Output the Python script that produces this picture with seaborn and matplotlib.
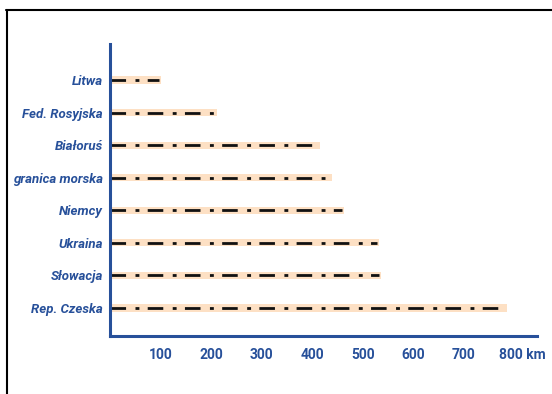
import matplotlib
matplotlib.use("Agg")
import matplotlib.pyplot as plt
from matplotlib.lines import Line2D
from matplotlib.transforms import ScaledTranslation
import seaborn as sns
import pandas as pd

# border lengths, km
countries = ["Litwa", "Fed. Rosyjska", "Białoruś", "granica morska",
             "Niemcy", "Ukraina", "Słowacja", "Rep. Czeska"]
lengths = [100, 212, 415, 440, 463, 532, 536, 786]
tick_values = [100, 200, 300, 400, 500, 600, 700, 800]
tick_labels = ["100", "200", "300", "400", "500", "600", "700", "800 km"]

BLUE = "#27509a"
PEACH = "#fde0c4"

sns.set_theme(style="white")
plt.rcParams["font.family"] = ["Roboto", "DejaVu Sans"]

df = pd.DataFrame({"country": countries, "km": lengths})

fig = plt.figure(figsize=(5.52, 3.94), dpi=100)
ax = fig.add_axes([110 / 552, 1 - 336 / 394, 427 / 552, 292 / 394])

sns.barplot(data=df, y="country", x="km", orient="h", color=PEACH,
            saturation=1, width=0.22, linewidth=0, ax=ax)

# dash-dot border symbol on top of each bar
for i, val in enumerate(lengths):
    ax.plot([0, val - 3], [i, i], color="#111111", lw=2.0,
            linestyle=(0, (5.6, 3.4, 1.4, 3.0)), dash_capstyle="butt")

ax.set_xlim(0, 845)
ax.set_ylim(7.86, -1.105)
ax.set_xlabel("")
ax.set_ylabel("")

for side in ["top", "right"]:
    ax.spines[side].set_visible(False)
for side in ["left", "bottom"]:
    ax.spines[side].set_color(BLUE)
    ax.spines[side].set_linewidth(2.2)

ax.set_xticks(tick_values)
ax.set_xticklabels(tick_labels)
ax.tick_params(axis="x", direction="inout", length=7, width=1.6, color=BLUE,
               labelcolor=BLUE, labelsize=10, pad=5)
ax.tick_params(axis="y", length=0, labelcolor=BLUE, labelsize=9.5, pad=5)
for lab in ax.get_xticklabels():
    lab.set_fontweight("bold")
for lab in ax.get_yticklabels():
    lab.set_fontweight("bold")
    lab.set_fontstyle("italic")

# shift "800 km" so the number sits under its tick
last = ax.get_xticklabels()[-1]
last.set_transform(last.get_transform() + ScaledTranslation(6 / 72, 0, fig.dpi_scale_trans))

# frame lines (top and left)
fig.add_artist(Line2D([6 / 552, 1], [1 - 9.5 / 394, 1 - 9.5 / 394], color="black", lw=1.5,
                      transform=fig.transFigure))
fig.add_artist(Line2D([6.5 / 552, 6.5 / 552], [0, 1 - 9.5 / 394], color="black", lw=1.5,
                      transform=fig.transFigure))

fig.savefig("out.png", dpi=100)
